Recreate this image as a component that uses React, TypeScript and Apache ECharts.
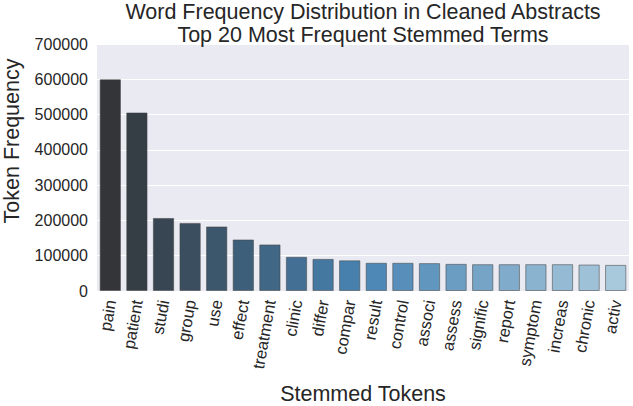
import React, { useEffect, useRef } from "react";
import * as echarts from "echarts";

const categories = ["pain", "patient", "studi", "group", "use", "effect", "treatment", "clinic", "differ", "compar", "result", "control", "associ", "assess", "signific", "report", "symptom", "increas", "chronic", "activ"];
const frequencies = [600000, 506000, 207000, 193000, 183000, 146000, 132000, 97000, 91000, 87000, 80000, 80000, 79000, 77000, 76000, 76000, 76000, 76000, 75000, 74000];
const yTicks = [0, 100000, 200000, 300000, 400000, 500000, 600000, 700000];

const paletteAnchors = [[51, 53, 56], [72, 132, 180], [168, 200, 220]];

function blend(i: number, n: number): string {
  const t = i / (n - 1);
  const seg = t < 0.5 ? 0 : 1;
  const lt = seg === 0 ? t / 0.5 : (t - 0.5) / 0.5;
  const a = paletteAnchors[seg];
  const b = paletteAnchors[seg + 1];
  const c = a.map((v, k) => Math.round(v + (b[k] - v) * lt));
  return `rgb(${c[0]},${c[1]},${c[2]})`;
}

export default function App() {
  const ref = useRef<HTMLDivElement>(null);
  useEffect(() => {
    if (!ref.current) return;
    const chart = echarts.init(ref.current, null, { renderer: "svg" });
    const font = "Liberation Sans, Arial, sans-serif";
    chart.setOption({
      animation: false,
      backgroundColor: "#ffffff",
      textStyle: { fontFamily: font },
      title: {
        text: "Word Frequency Distribution in Cleaned Abstracts\nTop 20 Most Frequent Stemmed Terms",
        left: 363,
        textAlign: "center",
        top: 0,
        padding: 0,
        textStyle: { fontFamily: font, fontSize: 21.5, fontWeight: "normal", color: "#262626", lineHeight: 23 },
      },
      grid: {
        left: 97, right: 4, top: 44, bottom: 115,
        backgroundColor: "#EAEAF2", show: true, borderWidth: 0,
        containLabel: false, outerBoundsMode: "none",
      },
      xAxis: {
        type: "category",
        data: categories,
        axisLine: { show: false },
        axisTick: { show: false },
        axisLabel: { rotate: 80, fontSize: 16.5, color: "#262626", margin: 9, fontFamily: font, interval: 0 },
      },
      yAxis: {
        type: "value",
        min: yTicks[0],
        max: yTicks[yTicks.length - 1],
        interval: yTicks[1] - yTicks[0],
        axisLine: { show: false },
        axisTick: { show: false },
        splitLine: { lineStyle: { color: "#ffffff", width: 1 } },
        axisLabel: { fontSize: 16, color: "#262626", margin: 9, fontFamily: font, formatter: (v: number) => String(v) },
      },
      graphic: [
        {
          type: "text",
          x: 11.5,
          y: 141,
          rotation: Math.PI / 2,
          style: { text: "Token Frequency", fontSize: 21.5, fill: "#262626", fontFamily: font, textAlign: "center", textVerticalAlign: "middle" },
        },
        {
          type: "text",
          x: 363,
          y: 394,
          style: { text: "Stemmed Tokens", fontSize: 21.5, fill: "#262626", fontFamily: font, textAlign: "center", textVerticalAlign: "middle" },
        },
      ],
      series: [
        {
          type: "bar",
          barCategoryGap: "20%",
          data: frequencies.map((v, i) => ({
            value: v,
            itemStyle: { color: blend(i, frequencies.length), borderColor: "rgba(70,70,70,0.55)", borderWidth: 1 },
          })),
        },
      ],
    });
    return () => chart.dispose();
  }, []);
  return <div ref={ref} style={{ width: 633, height: 406, position: "absolute", left: 0, top: 0 }} />;
}
